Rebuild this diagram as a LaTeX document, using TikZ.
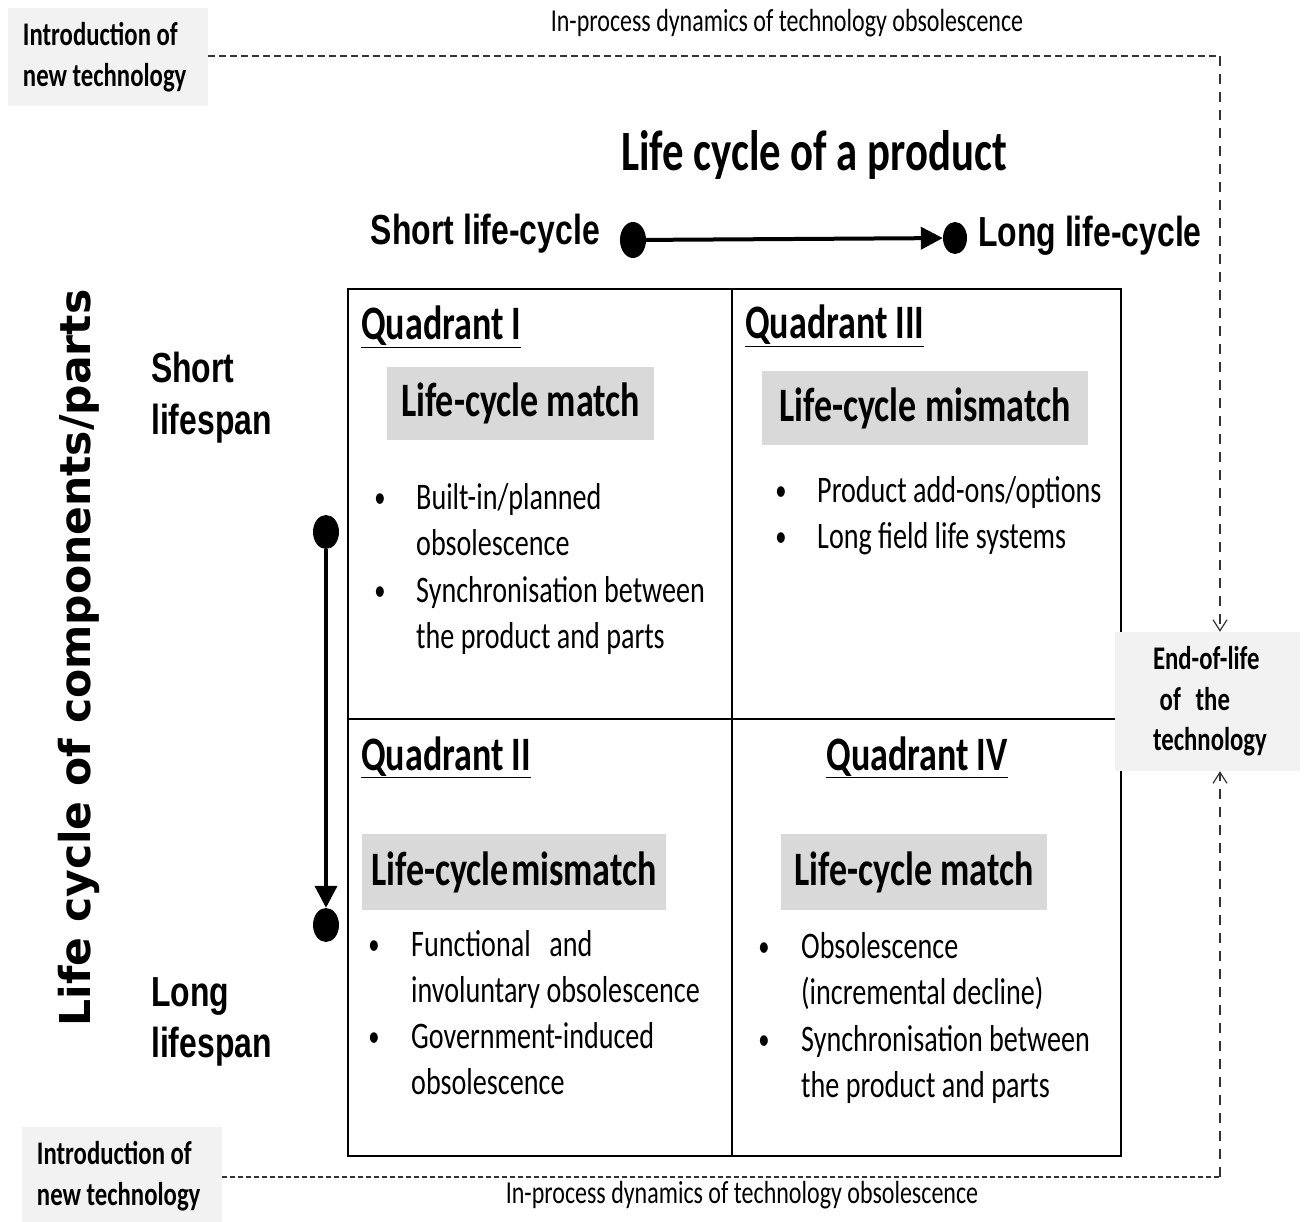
\documentclass[tikz,border=0pt]{standalone}
\usepackage{fontspec}
\setmainfont{Carlito}[FakeStretch=0.75]
\newfontfamily\arn{Liberation Sans}[FakeStretch=0.76]
\newfontfamily\dvs{DejaVu Sans}
\usetikzlibrary{arrows.meta,shapes.geometric}
\definecolor{boxgray}{HTML}{D9D9D9}
\definecolor{lightgray}{HTML}{F2F2F2}
\tikzset{
  lbl/.style={inner sep=0pt, text height=5pt, text depth=5pt},
  bul/.style={lbl, font=\fontsize{37.5pt}{44pt}\selectfont, anchor=west, yshift=-12pt},
  dotc/.style={lbl, font=\fontsize{30pt}{36pt}\selectfont, anchor=center, yshift=-10pt},
  qhead/.style={lbl, font=\fontsize{48pt}{54pt}\selectfont\bfseries, yshift=-15pt},
  graybox/.style={fill=boxgray, inner sep=0pt, font=\fontsize{48pt}{54pt}\selectfont\bfseries},
  cell/.style={draw=black, line width=2pt, anchor=north west, inner sep=0pt},
  outerbox/.style={fill=lightgray, inner sep=0pt, align=left, font=\fontsize{33pt}{40.5pt}\selectfont\bfseries},
  proc/.style={lbl, font=\fontsize{32pt}{38pt}\selectfont, yshift=-10pt},
  bigdot/.style={ellipse, fill=black, inner sep=0pt},
  axlbl/.style={lbl, font=\arn\fontsize{42pt}{48pt}\selectfont\bfseries, yshift=-15pt},
  sidelbl/.style={lbl, anchor=west, font=\arn\fontsize{42pt}{48pt}\selectfont\bfseries, yshift=-14pt},
  titlelbl/.style={lbl, font=\fontsize{57pt}{62pt}\selectfont\bfseries, yshift=-19pt},
  hdash/.style={line width=1.2pt, dash pattern=on 7pt off 4pt, draw=black!80},
  vdash/.style={line width=1.2pt, dash pattern=on 10pt off 8pt, draw=black!80,
                -{Straight Barb[length=11pt,width=14pt]}},
  mainarrow/.style={line width=4pt, -{Triangle[length=22pt,width=22pt]}}
}
\begin{document}
\begin{tikzpicture}[x=1pt,y=-1pt]
\useasboundingbox (0,0) rectangle (1306,1222);

% quadrant cells
\node[cell, minimum width=384pt, minimum height=430pt] (q1) at (347,288) {};
\node[cell, minimum width=389pt, minimum height=430pt] (q3) at (731,288) {};
\node[cell, minimum width=384pt, minimum height=437pt] (q2) at (347,718) {};
\node[cell, minimum width=389pt, minimum height=437pt] (q4) at (731,718) {};

% outer gray boxes
\node[outerbox, minimum width=200pt, minimum height=98pt] (intro1) at (108,57) {\hspace*{-0.2em}Introduction of\\\hspace*{-0.2em}new technology};
\node[outerbox, minimum width=200pt, minimum height=98pt] (intro2) at (122,1176) {\hspace*{-0.2em}Introduction of\\\hspace*{-0.2em}new technology};
\node[outerbox, minimum width=185pt, minimum height=139pt] (eol) at (1207.5,701.5) {\hspace*{0.15em}End-of-life\\\hspace*{0.35em}of\hspace{0.45em}the\\\hspace*{0.15em}technology};

% process labels
\node[proc] (ptop) at (787,22) {In-process dynamics of technology obsolescence};
\node[proc] (pbot) at (742,1193) {In-process dynamics of technology obsolescence};

% dashed connectors
\coordinate (c1) at (1220,56);
\coordinate (c2) at (1220,1177);
\draw[hdash] (intro1.east |- c1) -- (c1);
\draw[vdash] (c1) -- (c1 |- eol.north);
\draw[hdash, dash pattern=on 5pt off 3pt] (intro2.east |- c2) -- (c2);
\draw[vdash] (c2) -- (c2 |- eol.south);

% title and horizontal axis
\node[titlelbl] (title) at (814,152) {Life cycle of a product};
\node[axlbl, anchor=east] (shortlc) at (600,230) {Short life-cycle};
\node[axlbl, anchor=west] (longlc) at (978,232) {Long life-cycle};
\node[bigdot, minimum width=26pt, minimum height=36pt] (d1) at (633,240) {};
\node[bigdot, minimum width=24pt, minimum height=32pt] (d2) at (955,238) {};
\draw[mainarrow] (d1) -- (d2);

% vertical axis
\node[inner sep=0pt, text height=7.2pt, text depth=2.2pt, rotate=90, font=\dvs\fontsize{42.5pt}{48pt}\selectfont\bfseries] (vlabel) at (88,658) {Life cycle of components/parts};
\node[sidelbl] (s1) at (151,368) {Short};
\node[sidelbl] (s2) at (151,420) {lifespan};
\node[sidelbl] (l1) at (151,992) {Long};
\node[sidelbl] (l2) at (151,1043) {lifespan};
\node[bigdot, minimum width=26pt, minimum height=34pt] (d3) at (326,532) {};
\node[bigdot, minimum width=26pt, minimum height=34pt] (d4) at (326,925) {};
\draw[mainarrow] (d3) -- (d4);

% headers
\node[qhead, anchor=west] (h1) at (361,325) {\underline{Quadrant I}};
\node[qhead, anchor=west] (h3) at (745,324) {\underline{Quadrant III}};
\node[qhead, anchor=west] (h2) at (361,755) {\underline{Quadrant II}};
\node[qhead, anchor=center] (h4) at (917,755) {\underline{Quadrant IV}};

% gray label boxes
\node[graybox, minimum width=267pt, minimum height=73pt] (g1) at (520.5,403.5) {\raisebox{-3pt}{Life-cycle match}};
\node[graybox, minimum width=326pt, minimum height=74pt] (g3) at (925,408) {\raisebox{-3pt}{Life-cycle mismatch}};
\node[graybox, minimum width=304pt, minimum height=76pt] (g2) at (514,872) {\raisebox{-3pt}{Life-cycle\hspace{0.05em}mismatch}};
\node[graybox, minimum width=266pt, minimum height=76pt] (g4) at (914,872) {\raisebox{-3pt}{Life-cycle match}};

% Quadrant I bullets
\node[dotc] (b11) at (380,497) {•};
\node[bul] (t11) at (416,497) {Built-in/planned};
\node[bul] (t12) at (416,543) {obsolescence};
\node[dotc] (b12) at (380,590) {•};
\node[bul] (t13) at (416,590) {Synchronisation between};
\node[bul] (t14) at (416,636) {the product and parts};

% Quadrant III bullets
\node[dotc] (b31) at (781,490) {•};
\node[bul] (t31) at (817,490) {Product add-ons/options};
\node[dotc] (b32) at (781,536) {•};
\node[bul] (t32) at (817,536) {Long field life systems};

% Quadrant II bullets
\node[dotc] (b21) at (374,944) {•};
\node[bul] (t21) at (411,944) {Functional\hspace{0.5em}and};
\node[bul] (t22) at (411,990) {involuntary obsolescence};
\node[dotc] (b22) at (374,1036) {•};
\node[bul] (t23) at (411,1036) {Government-induced};
\node[bul] (t24) at (411,1082) {obsolescence};

% Quadrant IV bullets
\node[dotc] (b41) at (764,946) {•};
\node[bul] (t41) at (801,946) {Obsolescence};
\node[bul] (t42) at (801,992) {(incremental decline)};
\node[dotc] (b42) at (764,1039) {•};
\node[bul] (t43) at (801,1039) {Synchronisation between};
\node[bul] (t44) at (801,1085) {the product and parts};
\end{tikzpicture}
\end{document}
